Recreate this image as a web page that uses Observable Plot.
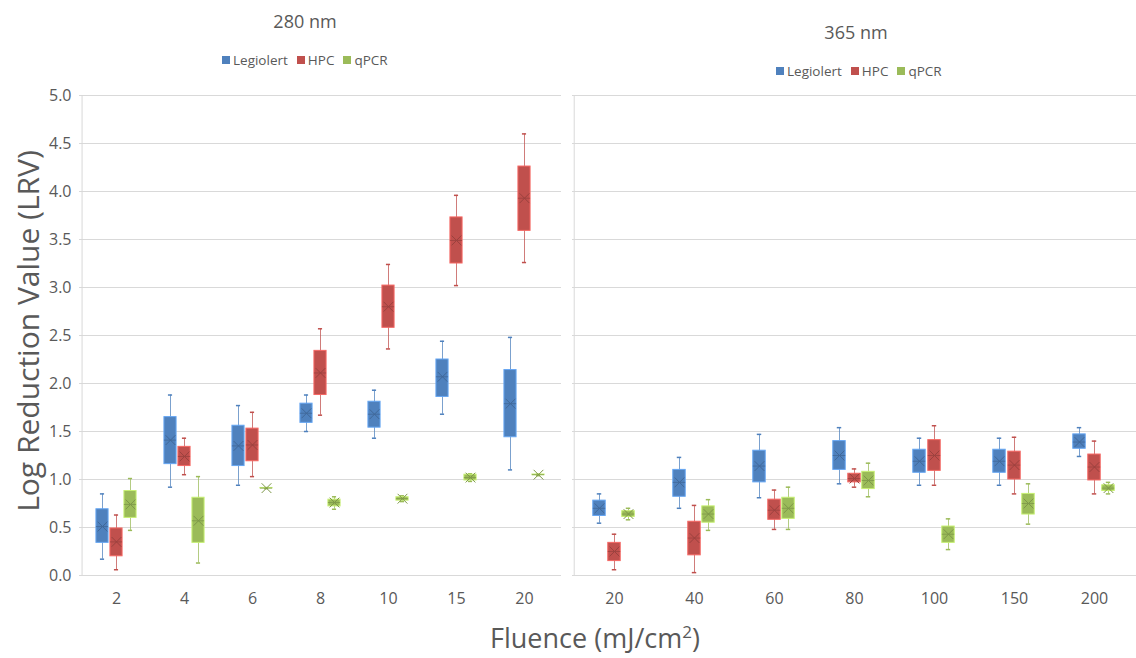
<!DOCTYPE html>
<html>
<head>
<meta charset="utf-8">
<script src="https://cdn.jsdelivr.net/npm/d3@7"></script>
<script src="https://cdn.jsdelivr.net/npm/@observablehq/plot@0.6"></script>
<style>
  body { margin: 0; background: #fff; }
  #wrap { position: relative; width: 1136px; height: 658px; background: #fff; font-family: "Open Sans", sans-serif; color: #595959; overflow: hidden; }
  .abs { position: absolute; }
  .title { font-size: 18px; transform: translate(-50%, -50%); white-space: nowrap; }
  .legend { display: flex; align-items: center; font-size: 13.5px; transform: translateY(-50%); white-space: nowrap; }
  .legend span.sw { display: inline-block; width: 8px; height: 8px; margin-right: 3px; }
  .legend span.item { display: inline-flex; align-items: center; margin-right: 9px; }
  #ytitle { font-size: 30px; transform: translate(-50%, -50%) rotate(-90deg); white-space: nowrap; }
  #xtitle { font-size: 27px; transform: translate(-50%, -50%); white-space: nowrap; }
  #xtitle sup { font-size: 17px; }
</style>
</head>
<body>
<div id="wrap"></div>
<script>
// ---------- data ----------
const methods = ["Legiolert", "HPC", "qPCR"];
const colors = ["#4F81BD", "#C0504D", "#9BBB59"];
const yTicks = [0, 0.5, 1, 1.5, 2, 2.5, 3, 3.5, 4, 4.5, 5];

const fluence280 = ["2", "4", "6", "8", "10", "15", "20"];
const fluence365 = ["20", "40", "60", "80", "100", "150", "200"];

// each entry: [min, q1, median/mean, q3, max]
const legiolert280 = [
  [0.17, 0.34, 0.51, 0.69, 0.85],
  [0.92, 1.16, 1.41, 1.65, 1.88],
  [0.94, 1.14, 1.35, 1.56, 1.77],
  [1.50, 1.59, 1.69, 1.79, 1.88],
  [1.43, 1.54, 1.68, 1.81, 1.93],
  [1.68, 1.86, 2.07, 2.25, 2.44],
  [1.10, 1.44, 1.79, 2.14, 2.48]
];
const hpc280 = [
  [0.06, 0.20, 0.35, 0.49, 0.63],
  [1.05, 1.14, 1.24, 1.34, 1.43],
  [1.03, 1.19, 1.36, 1.53, 1.70],
  [1.67, 1.88, 2.11, 2.34, 2.57],
  [2.36, 2.58, 2.80, 3.02, 3.24],
  [3.02, 3.25, 3.49, 3.73, 3.96],
  [3.26, 3.59, 3.93, 4.26, 4.60]
];
const qpcr280 = [
  [0.47, 0.60, 0.74, 0.88, 1.01],
  [0.13, 0.34, 0.57, 0.81, 1.03],
  [0.905, 0.908, 0.91, 0.912, 0.915],
  [0.69, 0.72, 0.76, 0.79, 0.82],
  [0.77, 0.78, 0.80, 0.815, 0.83],
  [0.98, 0.99, 1.02, 1.05, 1.06],
  [1.04, 1.045, 1.05, 1.052, 1.055]
];

const legiolert365 = [
  [0.545, 0.62, 0.70, 0.78, 0.85],
  [0.70, 0.82, 0.97, 1.10, 1.23],
  [0.81, 0.97, 1.14, 1.30, 1.47],
  [0.955, 1.10, 1.25, 1.40, 1.54],
  [0.94, 1.07, 1.19, 1.31, 1.43],
  [0.94, 1.07, 1.19, 1.31, 1.43],
  [1.24, 1.32, 1.39, 1.47, 1.54]
];
const hpc365 = [
  [0.06, 0.15, 0.25, 0.34, 0.43],
  [0.03, 0.21, 0.39, 0.56, 0.73],
  [0.48, 0.58, 0.68, 0.79, 0.89],
  [0.92, 0.97, 1.01, 1.06, 1.11],
  [0.94, 1.09, 1.25, 1.41, 1.56],
  [0.85, 1.00, 1.15, 1.29, 1.44],
  [0.85, 0.99, 1.13, 1.26, 1.40]
];
const qpcr365 = [
  [0.58, 0.61, 0.64, 0.67, 0.70],
  [0.47, 0.55, 0.64, 0.72, 0.79],
  [0.48, 0.59, 0.70, 0.81, 0.92],
  [0.82, 0.90, 0.99, 1.08, 1.17],
  [0.27, 0.34, 0.43, 0.51, 0.59],
  [0.535, 0.635, 0.75, 0.85, 0.955],
  [0.85, 0.88, 0.91, 0.94, 0.97]
];

// ---------- drawing ----------
const wrap = document.getElementById("wrap");
const FONT = "Open Sans, sans-serif";

function panel(fluence, sets, opts) {
  const { width, marginLeft, showY, offsets } = opts;
  const bw = (width - marginLeft) / fluence.length;
  const boxW = 13, capW = 5;
  const boxInset = (bw - boxW) / 2, capInset = (bw - capW) / 2;
  const marks = [
    Plot.ruleY(yTicks, { stroke: "#d9d9d9", strokeWidth: 1 }),
    Plot.ruleX([fluence[0]], { dx: -bw / 2, stroke: "#d9d9d9", strokeWidth: 1 })
  ];
  methods.forEach((m, i) => {
    const rows = sets[i].map((v, j) => ({ fluence: fluence[j], method: m, min: v[0], q1: v[1], mid: v[2], q3: v[3], max: v[4] }));
    const col = colors[i];
    const light = d3.color(col).brighter(0.7).formatHex();
    const dark = d3.color(col).darker(0.6).formatHex();
    const dx = offsets[i];
    marks.push(
      Plot.ruleX(rows, { x: "fluence", y1: "min", y2: "max", stroke: col, strokeOpacity: 0.75, strokeWidth: 1, dx }),
      Plot.tickY(rows, { x: "fluence", y: "min", stroke: col, strokeWidth: 1.5, dx, insetLeft: capInset, insetRight: capInset }),
      Plot.tickY(rows, { x: "fluence", y: "max", stroke: col, strokeWidth: 1.5, dx, insetLeft: capInset, insetRight: capInset }),
      Plot.barY(rows, { x: "fluence", y1: "q1", y2: "q3", fill: col, stroke: light, strokeWidth: 1, dx, insetLeft: boxInset, insetRight: boxInset }),
      Plot.tickY(rows, { x: "fluence", y: "mid", stroke: dark, strokeOpacity: 0.8, strokeWidth: 1, dx, insetLeft: boxInset, insetRight: boxInset }),
      Plot.dot(rows, { x: "fluence", y: "mid", symbol: "times", r: 4.5, stroke: dark, strokeWidth: 1, fill: "none", dx })
    );
  });
  return Plot.plot({
    width,
    height: 530,
    marginTop: 10,
    marginBottom: 40,
    marginLeft,
    marginRight: 0,
    style: { fontFamily: FONT, fontSize: "16px", color: "#595959", background: "transparent", overflow: "visible" },
    x: { domain: fluence, padding: 0, label: null, tickSize: 0, tickPadding: 17 },
    y: showY
      ? { domain: [0, 5], ticks: yTicks, tickFormat: d => d.toFixed(1), label: null, tickSize: 0, tickPadding: 8 }
      : { domain: [0, 5], axis: null },
    marks
  });
}

const left = panel(fluence280, [legiolert280, hpc280, qpcr280], { width: 561, marginLeft: 79, showY: true, offsets: [-14, 0, 14] });
left.classList.add("abs");
left.style.left = "0px";
left.style.top = "85px";
wrap.appendChild(left);

const right = panel(fluence365, [legiolert365, hpc365, qpcr365], { width: 566, marginLeft: 2, showY: false, offsets: [-15, 0, 14] });
right.classList.add("abs");
right.style.left = "570px";
right.style.top = "85px";
wrap.appendChild(right);

function addText(id, cls, html, x, y) {
  const d = document.createElement("div");
  if (id) d.id = id;
  d.className = "abs " + cls;
  d.innerHTML = html;
  d.style.left = x + "px";
  d.style.top = y + "px";
  wrap.appendChild(d);
  return d;
}
function addLegend(x, y) {
  const d = document.createElement("div");
  d.className = "abs legend";
  d.style.left = x + "px";
  d.style.top = y + "px";
  methods.forEach((m, i) => {
    const it = document.createElement("span");
    it.className = "item";
    it.innerHTML = `<span class="sw" style="background:${colors[i]}"></span>${m}`;
    d.appendChild(it);
  });
  wrap.appendChild(d);
}

addText(null, "title", "280 nm", 305, 21);
addText(null, "title", "365 nm", 856, 32);
addLegend(222, 60);
addLegend(776, 71);
addText("ytitle", "", "Log Reduction Value (LRV)", 27, 331);
addText("xtitle", "", "Fluence (mJ/cm<sup>2</sup>)", 595, 637);
</script>
</body>
</html>
